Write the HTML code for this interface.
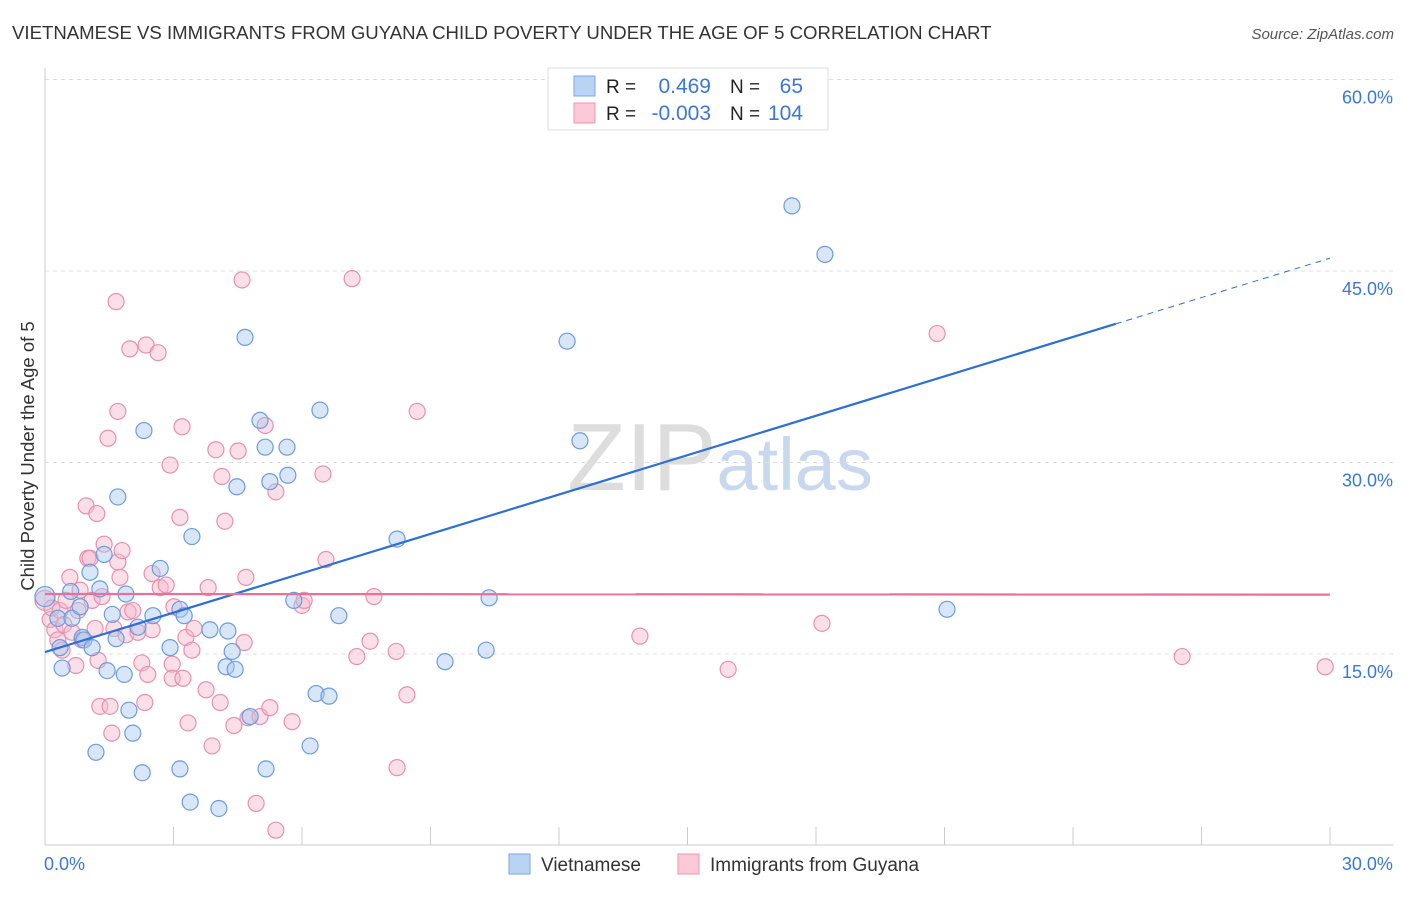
<!DOCTYPE html>
<html><head><meta charset="utf-8"><style>
body{margin:0;background:#fff;font-family:"Liberation Sans",sans-serif;}
svg text{font-family:"Liberation Sans",sans-serif;}
</style></head><body>
<svg id="chart" width="1406" height="892" xmlns="http://www.w3.org/2000/svg">
<text x="12" y="39" font-size="18.6" fill="#333">VIETNAMESE VS IMMIGRANTS FROM GUYANA CHILD POVERTY UNDER THE AGE OF 5 CORRELATION CHART</text>
<text x="1394" y="39" font-size="15" fill="#555" font-style="italic" text-anchor="end">Source: ZipAtlas.com</text>
<text x="720" y="490" font-size="96" fill="#ddd" font-family="Liberation Serif" text-anchor="middle">ZIP<tspan fill="#c8d8ef" font-family="Liberation Sans" font-size="74">atlas</tspan></text>
<g id="grid"></g><g id="axes"></g><g id="pts"></g><g id="lines"></g>
<text transform="translate(34,456) rotate(-90)" font-size="18.5" fill="#333" text-anchor="middle">Child Poverty Under the Age of 5</text>
<g>
<rect x="548" y="68" width="280" height="62" fill="#fff" stroke="#ddd"/>
<rect x="574" y="76" width="21" height="20" fill="#b9d3f5" stroke="#7aa7e6"/>
<rect x="574" y="103" width="21" height="20" fill="#fbc9d8" stroke="#ee95b1"/>
<text x="606" y="93" font-size="19" fill="#222">R = </text><text x="711" y="93" font-size="21" fill="#3a78d6" text-anchor="end">0.469</text>
<text x="730" y="93" font-size="19" fill="#222">N = </text><text x="803" y="93" font-size="21" fill="#3a78d6" text-anchor="end">65</text>
<text x="606" y="120" font-size="19" fill="#222">R = </text><text x="711" y="120" font-size="21" fill="#3a78d6" text-anchor="end">-0.003</text>
<text x="730" y="120" font-size="19" fill="#222">N = </text><text x="803" y="120" font-size="21" fill="#3a78d6" text-anchor="end">104</text>
</g>
<g>
<rect x="509" y="854" width="21" height="20" fill="#b9d3f5" stroke="#7aa7e6"/>
<text x="541" y="871" font-size="19" fill="#333">Vietnamese</text>
<rect x="678" y="854" width="21" height="20" fill="#fbc9d8" stroke="#ee95b1"/>
<text x="710" y="871" font-size="19" fill="#333">Immigrants from Guyana</text>
</g>
</svg>
<script>
const yTicks=[15,30,45,60];
const yTickLabels=["15.0%","30.0%","45.0%","60.0%"];
const xLabels=["0.0%","30.0%"];
const blueX=[0,0.3,0.35,0.4,0.6,0.63,0.82,0.87,0.91,1.05,1.1,1.19,1.28,1.38,1.45,1.57,1.66,1.7,1.85,1.89,1.96,2.05,2.17,2.27,2.31,2.52,2.69,2.92,3.15,3.15,3.25,3.43,3.39,3.85,4.06,4.23,4.27,4.37,4.44,4.48,4.67,4.79,5.02,5.14,5.16,5.25,5.65,5.67,5.81,6.19,6.33,6.42,6.63,6.86,8.22,9.34,10.3,10.37,12.19,12.49,17.44,18.21,21.06];
const blueY=[19.5,17.8,15.5,13.9,19.9,17.8,18.7,16.3,16.1,21.4,15.5,7.3,20.1,22.8,13.7,18.1,16.2,27.3,13.4,19.7,10.6,8.8,17.1,5.7,32.5,18.0,21.7,15.5,6.0,18.5,18.0,24.2,3.4,16.9,2.9,14.0,16.8,15.2,13.8,28.1,39.8,10.1,33.3,31.2,6.0,28.5,31.2,29.0,19.2,7.8,11.9,34.1,11.7,18.0,24.0,14.4,15.3,19.4,39.5,31.7,50.1,46.3,18.5];
const pinkX=[0,0.12,0.16,0.23,0.30,0.35,0.40,0.44,0.49,0.58,0.63,0.72,0.77,0.82,0.86,0.96,1.00,1.05,1.10,1.17,1.21,1.24,1.28,1.33,1.38,1.47,1.52,1.56,1.61,1.66,1.70,1.70,1.75,1.80,1.89,1.94,1.98,2.05,2.17,2.26,2.33,2.36,2.40,2.50,2.50,2.64,2.69,2.83,2.92,2.97,2.97,3.01,3.15,3.20,3.22,3.29,3.34,3.43,3.48,3.76,3.81,3.90,3.99,4.09,4.13,4.20,4.41,4.51,4.60,4.65,4.69,4.74,4.93,5.02,5.14,5.25,5.39,5.39,5.77,6.00,6.05,6.49,6.56,7.17,7.28,7.59,7.68,8.20,8.22,8.45,8.69,13.89,15.95,18.14,20.83,26.55,29.89];
const pinkY=[19.2,17.7,18.6,16.9,16.1,18.4,15.3,17.3,19.2,21.0,16.7,14.1,18.4,20.0,16.1,26.6,22.5,22.5,19.2,17.0,26.0,14.5,10.9,19.5,23.6,31.9,10.9,8.8,17.0,42.6,34.0,22.2,21.0,23.1,16.5,18.3,38.9,18.4,16.7,14.3,11.2,39.2,13.4,21.3,16.9,38.6,20.2,20.4,29.8,14.2,13.1,18.7,25.7,32.8,13.1,16.3,9.6,15.3,17.0,12.2,20.2,7.8,31.0,11.2,28.9,25.4,9.4,30.9,44.3,15.9,21.0,10.0,3.3,10.1,32.9,10.8,27.7,1.2,9.7,18.8,19.2,29.1,22.4,44.4,14.8,16.0,19.5,15.2,6.1,11.8,34.0,16.4,13.8,17.4,40.1,14.8,14.0];
const blueLine=[15.15,46.0], pinkLine=[19.7,19.65];
const X=v=>45+v*42.83, Y=v=>845.5-v*12.767;
const NS="http://www.w3.org/2000/svg";
function mk(parent,tag,attrs){const e=document.createElementNS(NS,tag);for(const k in attrs)e.setAttribute(k,attrs[k]);document.getElementById(parent).appendChild(e);return e;}
yTicks.forEach((t,i)=>{
 const l=mk('grid','line',{x1:45,x2:1394,y1:Y(t),y2:Y(t),stroke:'#ddd','stroke-dasharray':'4,4'});
 
 
 const tx=mk('grid','text',{x:1393,y:Y(t)+24,'font-size':18,fill:'#3a78d6','text-anchor':'end'});
 tx.textContent=yTickLabels[i];
 
 
});
const ax=mk('axes','line',{x1:45,x2:1394,y1:845,y2:845,stroke:'#ccc'});


const ay=mk('axes','line',{x1:45,x2:45,y1:68,y2:845,stroke:'#ccc'});


for(let i=1;i<=10;i++){const t=mk('axes','line',{x1:45+i*128.5,x2:45+i*128.5,y1:827,y2:845,stroke:'#ccc'});
 
 }
[[X(0)-1,'start'],[X(30)+63,'end']].forEach((p,i)=>{const t=mk('axes','text',{x:p[0],y:870,'font-size':18,fill:'#3a78d6','text-anchor':p[1]});t.textContent=xLabels[i];
 
 });
function pts(xs,ys,fill,stroke,name){xs.forEach((x,i)=>{const c=mk('pts','circle',{cx:X(x),cy:Y(ys[i]),r:i===0?10:8,fill:fill,'fill-opacity':0.45,stroke:stroke,'stroke-width':1.2});
 
 });}
pts(pinkX,pinkY,'#f7b8cb','#e890ad','point-guyana');
pts(blueX,blueY,'#a9c7f0','#6b9ce0','point-vietnamese');
const bs=v=>blueLine[0]+(blueLine[1]-blueLine[0])*v/30;
const b1=mk('lines','line',{x1:X(0),y1:Y(bs(0)),x2:X(25),y2:Y(bs(25)),stroke:'#2e6fd6','stroke-width':2.2});


const b2=mk('lines','line',{x1:X(25),y1:Y(bs(25)),x2:X(30),y2:Y(bs(30)),stroke:'#2e6fd6','stroke-width':1,'stroke-dasharray':'6,5'});


const p1=mk('lines','line',{x1:X(0),y1:Y(pinkLine[0]),x2:X(30),y2:Y(pinkLine[1]),stroke:'#e8709a','stroke-width':2.2});


</script>
</body></html>
